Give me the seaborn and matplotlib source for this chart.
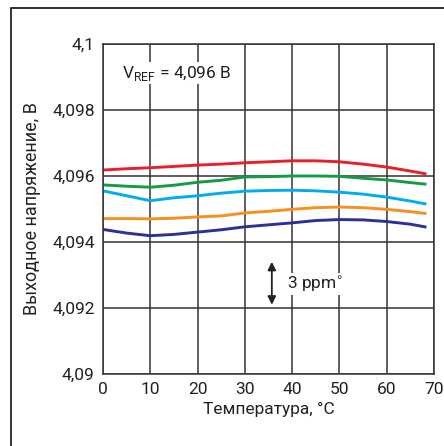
import pandas as pd
import matplotlib
matplotlib.use("Agg")
import matplotlib.pyplot as plt
from matplotlib.patches import Rectangle
from matplotlib.ticker import FuncFormatter
import seaborn as sns

# data
temps = [0, 5, 10, 15, 20, 25, 30, 35, 40, 45, 50, 55, 60, 65, 68.4]
red = [4.09618, 4.09622, 4.09625, 4.09629, 4.09633, 4.09636, 4.09640, 4.09643,
       4.09646, 4.09646, 4.09643, 4.09636, 4.09627, 4.09615, 4.09606]
green = [4.09573, 4.09569, 4.09566, 4.09572, 4.09581, 4.09587, 4.09597, 4.09598,
         4.09600, 4.09600, 4.09599, 4.09593, 4.09588, 4.09580, 4.09575]
cyan = [4.09555, 4.09540, 4.09525, 4.09534, 4.09540, 4.09548, 4.09554, 4.09556,
        4.09557, 4.09555, 4.09551, 4.09545, 4.09536, 4.09524, 4.09515]
orange = [4.09471, 4.09471, 4.09470, 4.09472, 4.09476, 4.09479, 4.09488, 4.09493,
          4.09499, 4.09504, 4.09506, 4.09504, 4.09499, 4.09492, 4.09486]
navy = [4.09438, 4.09427, 4.09419, 4.09423, 4.09430, 4.09437, 4.09446, 4.09452,
        4.09458, 4.09465, 4.09468, 4.09467, 4.09462, 4.09454, 4.09445]

series = {"red": red, "green": green, "cyan": cyan, "orange": orange, "navy": navy}
palette = {"red": "#e8202a", "green": "#17994a", "cyan": "#00aeef",
           "orange": "#f7901e", "navy": "#2e3192"}

rows = []
for name, vals in series.items():
    for t, v in zip(temps, vals):
        rows.append({"T": t, "V": v, "s": name})
df = pd.DataFrame(rows)

sns.set_style("white")
plt.rcParams["font.family"] = ["Liberation Sans Narrow", "Roboto", "DejaVu Sans"]

fig = plt.figure(figsize=(4.44, 4.46), dpi=100)
ax = fig.add_axes([0.232, 0.1614, 0.7455, 0.74])

sns.lineplot(data=df, x="T", y="V", hue="s", palette=palette, ax=ax,
             linewidth=2.1, legend=False)
for ln in ax.lines:
    ln.set_solid_joinstyle("round")
    ln.set_solid_capstyle("butt")

ax.set_xlim(0, 70)
ax.set_ylim(4.09, 4.1)
ax.set_xticks(range(0, 71, 10))
ax.set_yticks([4.09, 4.092, 4.094, 4.096, 4.098, 4.1])
ax.yaxis.set_major_formatter(FuncFormatter(lambda v, p: f"{v:g}".replace(".", ",")))
ax.grid(True, color="#333333", linewidth=1.1)
ax.set_axisbelow(True)
for sp in ax.spines.values():
    sp.set_color("#333333")
    sp.set_linewidth(1.1)
ax.tick_params(length=0, labelsize=12.5, pad=6, colors="#222222")

ax.set_xlabel("Температура, °С", fontsize=12.5, color="#222222", labelpad=3)
ax.set_ylabel("Выходное напряжение, В", fontsize=13, color="#222222", labelpad=8)

ax.text(4.0, 4.09912, r"V$_{\mathregular{REF}}$ = 4,096 В", fontsize=12.5,
        va="center", ha="left", color="#222222",
        bbox=dict(facecolor="white", edgecolor="none", pad=1))
ax.annotate("", xy=(35.7, 4.0921), xytext=(35.7, 4.0934),
            arrowprops=dict(arrowstyle="<|-|>", color="#222222", lw=1.3,
                            mutation_scale=12, shrinkA=0, shrinkB=0))
ax.text(39.0, 4.09273, "3 ppm$^{\\circ}$", fontsize=12.5, va="center", ha="left",
        color="#222222", bbox=dict(facecolor="white", edgecolor="none", pad=1))

fig.patches.append(Rectangle((11 / 444, -0.1), 1.2, 1 - 8 / 446 + 0.1,
                             transform=fig.transFigure, fill=False,
                             edgecolor="#222222", linewidth=1.3))

fig.savefig("out.png", dpi=100)
